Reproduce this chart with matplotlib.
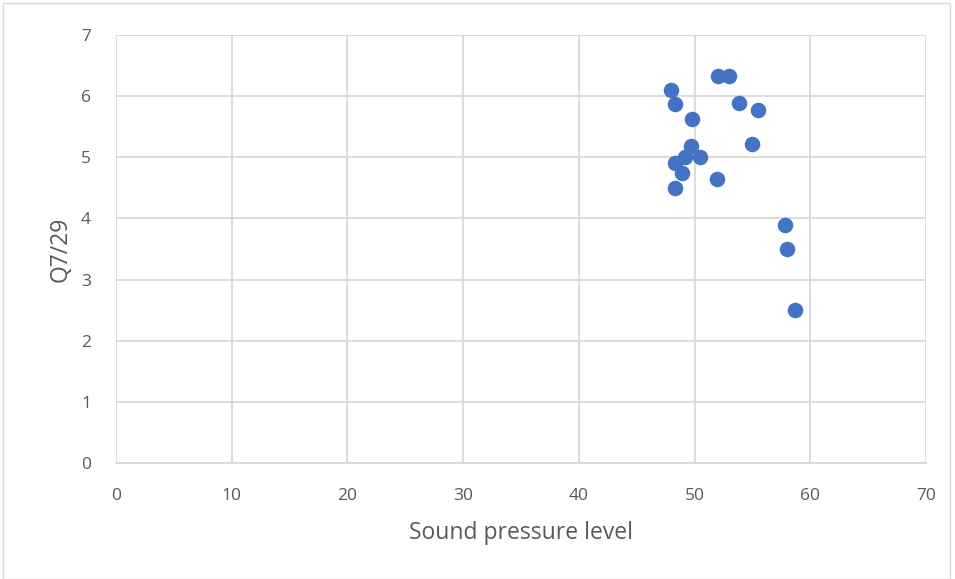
import matplotlib
matplotlib.use("Agg")
import matplotlib.pyplot as plt
from matplotlib.patches import Rectangle

# sound pressure level (x) vs Q7/29 score (y)
spl = [48.0, 48.3, 52.0, 53.0, 53.8, 55.5, 49.8, 55.0, 49.7, 49.2, 50.5,
       48.3, 48.9, 51.9, 48.3, 57.8, 58.0, 58.7]
q7_29 = [6.10, 5.87, 6.33, 6.33, 5.88, 5.77, 5.62, 5.21, 5.18, 5.00, 5.00,
         4.91, 4.75, 4.65, 4.50, 3.90, 3.50, 2.50]

x_ticks = [0, 10, 20, 30, 40, 50, 60, 70]
y_ticks = [0, 1, 2, 3, 4, 5, 6, 7]

plt.rcParams['font.family'] = ['Open Sans', 'DejaVu Sans']

fig = plt.figure(figsize=(9.55, 5.79), dpi=100)
ax = fig.add_axes([116 / 955, 1 - 463 / 579, 810 / 955, 428 / 579])

ax.scatter(spl, q7_29, s=125, color='#4472C4', zorder=3, linewidths=0)

ax.set_xlim(0, 70)
ax.set_ylim(0, 7)
ax.set_xticks(x_ticks)
ax.set_yticks(y_ticks)
ax.grid(True, color='#D9D9D9', linewidth=1.3)
ax.set_axisbelow(True)
for side in ['top', 'right', 'left']:
    ax.spines[side].set_visible(False)
ax.spines['bottom'].set_color('#D9D9D9')
ax.spines['bottom'].set_linewidth(1.3)
ax.tick_params(length=0, labelsize=12.5, labelcolor='#595959')
ax.tick_params(axis='x', pad=18)
ax.tick_params(axis='y', pad=18)

ax.set_xlabel('Sound pressure level', fontsize=16.5, color='#595959', labelpad=12)
ax.set_ylabel('Q7/29', fontsize=16.5, color='#595959', labelpad=6)

# outer chart border
fig.patches.append(Rectangle((3 / 955, 0), 947 / 955, 1 - 3 / 579, transform=fig.transFigure,
                             fill=False, edgecolor='#D9D9D9', linewidth=1))

fig.savefig('out.png', dpi=100)
